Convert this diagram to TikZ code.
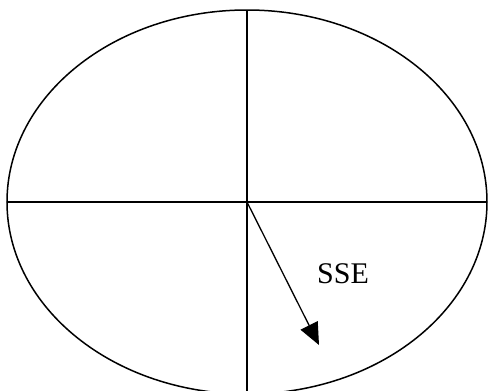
\documentclass[tikz,border=0pt]{standalone}
\usepackage{fontspec}
\setmainfont{Liberation Serif}
\usetikzlibrary{shapes.geometric,arrows.meta}
\tikzset{
  outline/.style={draw=black, line width=1.5pt},
  lbl/.style={font=\fontsize{30}{36}\selectfont, inner sep=0pt}
}
\begin{document}
\begin{tikzpicture}[x=1pt,y=-1pt]
\useasboundingbox (0,0) rectangle (488,391);
\node[outline, ellipse, minimum width=480pt, minimum height=384pt, inner sep=0pt, outer sep=0pt] (E) at (247,202) {};
\draw[outline] (E.north) -- (E.south);
\draw[outline] (E.west) -- (E.east);
\coordinate (tip) at (319,345);
\draw[outline, line width=1.3pt, -{Triangle[length=22pt,width=19pt]}] (E.center) -- (tip);
\node[lbl] (sse) at (343,274) {SSE};
\end{tikzpicture}
\end{document}
